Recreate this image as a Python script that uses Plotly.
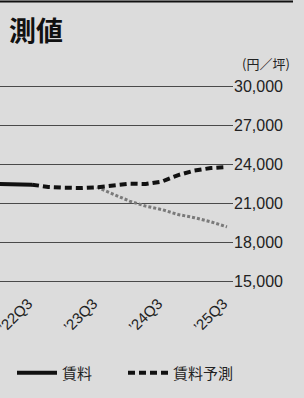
import plotly.graph_objects as go

quarters = ["'22Q1", "'22Q2", "'22Q3", "'22Q4",
            "'23Q1", "'23Q2", "'23Q3", "'23Q4",
            "'24Q1", "'24Q2", "'24Q3", "'24Q4",
            "'25Q1", "'25Q2", "'25Q3"]
tick_quarters = ["'22Q3", "'23Q3", "'24Q3", "'25Q3"]
tick_labels = ["’22Q3", "’23Q3", "’24Q3", "’25Q3"]

rent_actual = [22500, 22480, 22450]                       # '22Q1-'22Q3
rent_forecast = [22450, 22270, 22210, 22190, 22250, 22420, 22520,
                 22500, 22690, 23190, 23540, 23730, 23810]  # '22Q3-'25Q3
rent_low = [22250, 21720, 21180, 20790, 20520, 20140, 19900, 19580, 19190]  # '23Q3-'25Q3

y_ticks = [15000, 18000, 21000, 24000, 27000, 30000]

BG = "#dcdcdc"
FONT = "Liberation Sans, Arial, Noto Sans CJK JP, sans-serif"
JP = "Noto Sans CJK JP, sans-serif"

fig = go.Figure()
fig.add_trace(go.Scatter(
    x=quarters[6:], y=rent_low, mode="lines", showlegend=False,
    name="賃料予測（下振れ）",
    line=dict(color="#7a7a7a", width=3, dash="3px,2px")))
fig.add_trace(go.Scatter(
    x=quarters[2:], y=rent_forecast, mode="lines", name="賃料予測", legend="legend2",
    line=dict(color="#111111", width=4, dash="7px,4px")))
fig.add_trace(go.Scatter(
    x=quarters[:3], y=rent_actual, mode="lines", name="賃料", legend="legend",
    line=dict(color="#111111", width=4)))

leg_common = dict(orientation="h", xref="container", yref="container",
                  y=1 - 373 / 398, xanchor="left", yanchor="middle",
                  font=dict(family=JP, size=15, color="#222"),
                  itemwidth=40, bgcolor="rgba(0,0,0,0)")

fig.update_layout(
    width=304, height=398,
    margin=dict(l=0, r=71, t=83, b=113, autoexpand=False),
    paper_bgcolor=BG, plot_bgcolor=BG,
    font=dict(family=FONT, color="#222222"),
    showlegend=True,
    legend=dict(x=12 / 304, **leg_common),
    legend2=dict(x=123 / 304, **leg_common),
    xaxis=dict(type="category", categoryorder="array", categoryarray=quarters,
               range=[0.03, 14.37], tickmode="array", tickvals=tick_quarters,
               ticktext=tick_labels, tickangle=-45, showgrid=False, zeroline=False,
               showline=False, ticks="", ticklabelshift=-4, ticklabelstandoff=6,
               tickfont=dict(size=15, family=FONT, color="#222")),
    yaxis=dict(side="right", range=[14700, 30300], tickvals=y_ticks,
               tickformat=",d", showgrid=True, gridcolor="#4a4a4a", gridwidth=1,
               zeroline=False, showline=False, ticks="", ticklabelstandoff=0,
               tickfont=dict(size=16, family=FONT, color="#222")),
    annotations=[
        dict(text="<b>測値</b>", xref="paper", yref="paper", x=7 / 233, y=(285 - 29) / 202,
             xanchor="left", yanchor="middle", showarrow=False,
             font=dict(family=JP, size=27, color="#111")),
        dict(text="(円／坪)", xref="paper", yref="paper", x=240 / 233, y=(285 - 64) / 202,
             xanchor="left", yanchor="middle", showarrow=False,
             font=dict(family=JP, size=13, color="#222")),
    ],
    shapes=[dict(type="line", xref="paper", yref="paper", x0=0, x1=293 / 233,
                 y0=(285 - 1.5) / 202, y1=(285 - 1.5) / 202,
                 line=dict(color="#111", width=2))],
)

fig.write_html("out.html", config={"displayModeBar": False},
               post_script="document.body.style.margin='0';")
